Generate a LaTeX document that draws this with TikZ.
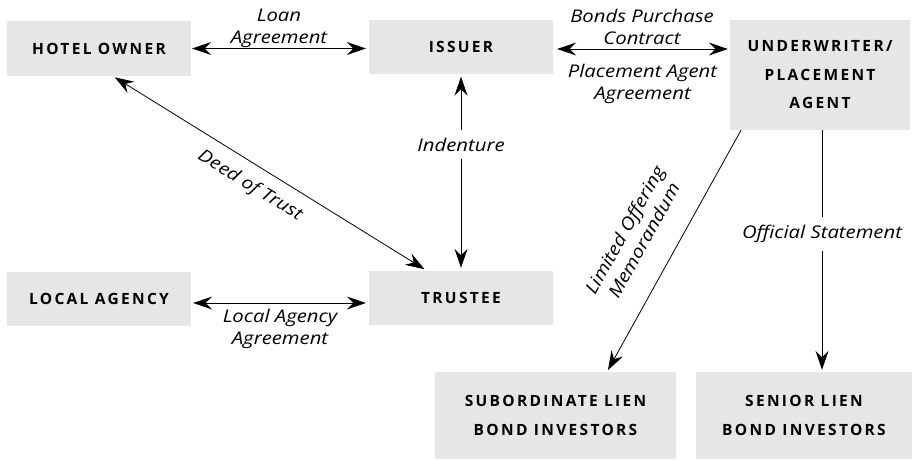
\documentclass[tikz,border=0pt]{standalone}
\usepackage{fontspec}
\setmainfont{Open Sans}
\usetikzlibrary{arrows.meta}
\definecolor{boxgray}{HTML}{E6E6E6}
\begin{document}
\begin{tikzpicture}[x=1pt,y=-1pt,
  box/.style={fill=boxgray, inner sep=0pt, align=center,
    font=\fontsize{15.5}{28.5}\selectfont\bfseries\addfontfeature{LetterSpace=15}},
  lbl/.style={inner sep=2pt, align=center, font=\fontsize{17.5}{22}\selectfont\itshape\addfontfeature{FakeStretch=1.16}},
  conn/.style={line width=0.8pt, -{Stealth[length=19pt,width=13pt,inset=6.5pt]}},
  dconn/.style={line width=0.8pt, {Stealth[length=19pt,width=13pt,inset=6.5pt]}-{Stealth[length=19pt,width=13pt,inset=6.5pt]}}]
\useasboundingbox (0,0) rectangle (912,459);
% boxes
\node[box, minimum width=184pt, minimum height=55pt] (hotel) at (99,48.5) {HOTEL OWNER};
\node[box, minimum width=184pt, minimum height=54pt] (issuer) at (461,46.5) {ISSUER};
\node[box, minimum width=180pt, minimum height=110pt] (under) at (820,75) {\raisebox{-2pt}{\parbox{180pt}{\centering UNDERWRITER/\\PLACEMENT\\AGENT}}};
\node[box, minimum width=184pt, minimum height=54pt] (local) at (99,299) {LOCAL AGENCY};
\node[box, minimum width=184pt, minimum height=54pt] (trustee) at (461,298) {TRUSTEE};
\node[box, minimum width=241pt, minimum height=87pt] (sub) at (555.5,415.5) {SUBORDINATE LIEN\\BOND INVESTORS};
\node[box, minimum width=216pt, minimum height=87pt] (senior) at (804,415.5) {SENIOR LIEN\\BOND INVESTORS};
% connectors
\draw[dconn, shorten <=1pt, shorten >=3pt] (hotel.east) -- (hotel.east -| issuer.west);
\draw[dconn, shorten <=4pt, shorten >=2pt] (issuer.east |- 0,49) -- (under.west |- 0,49);
\draw[dconn, shorten <=3pt, shorten >=3pt] (issuer.south) -- (trustee.north)
  node[lbl, pos=0.36, fill=white, inner ysep=8pt] (ind) {Indenture};
\draw[dconn, shorten <=2pt, shorten >=3pt] ([xshift=14pt]hotel.south) -- ([xshift=-34pt]trustee.north);
\draw[dconn, shorten <=2pt, shorten >=3pt] (local.east |- 0,303) -- (trustee.west |- 0,303);
\draw[conn, shorten >=2pt] ([xshift=-79pt]under.south) -- ([xshift=51.5pt]sub.north);
\draw[conn, shorten >=2pt] (under.south -| 822,0) -- (senior.north -| 822,0)
  node[lbl, pos=0.43, fill=white, inner ysep=8pt] (off) {Official Statement};
% labels
\node[lbl] (loan) at (279,28) {Loan\\Agreement};
\node[lbl] (bonds) at (642,27) {Bonds Purchase\\Contract};
\node[lbl] (place) at (642.5,84) {Placement Agent\\Agreement};
\node[lbl] (lagr) at (280,329) {Local Agency\\Agreement};
\node[lbl, rotate=-31.5] (deed) at (250,186) {Deed of Trust};
\node[lbl, rotate=61] (lom) at (634,235) {Limited Offering\\Memorandum};
\end{tikzpicture}
\end{document}
